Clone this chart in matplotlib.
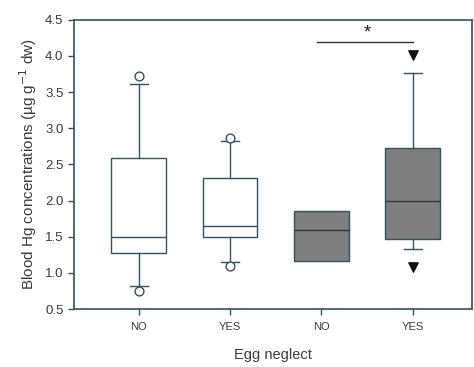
import numpy as np
import matplotlib
matplotlib.use('Agg')
import matplotlib.pyplot as plt

plt.rcParams['font.family'] = ['Liberation Sans', 'DejaVu Sans']

# data
labels = ['NO', 'YES', 'NO', 'YES']
q1 = [1.28, 1.49, 1.17, 1.47]
med = [1.50, 1.65, 1.59, 1.99]
q3 = [2.59, 2.31, 1.85, 2.73]
wlo = [0.82, 1.15, 1.17, 1.33]
whi = [3.61, 2.82, 1.85, 3.77]
fliers = [[0.75, 3.72], [1.10, 2.87], [], [1.08, 4.01]]
filled = [False, False, True, True]

line_c = '#35525c'
fill_c = '#7f7f7f'
text_c = '#3a3a3a'

stats = []
for i in range(4):
    stats.append(dict(med=med[i], q1=q1[i], q3=q3[i], whislo=wlo[i], whishi=whi[i], fliers=[]))

fig = plt.figure(figsize=(4.74, 3.67), dpi=100)
ax = fig.add_axes([0.156, 0.158, 0.84, 0.788])

pos = np.arange(1, 5)
for i in range(4):
    st = stats[i]
    face = fill_c if filled[i] else 'white'
    cw = 0.2 if i != 2 else 0
    ax.bxp([st], positions=[pos[i]], widths=0.6, patch_artist=True, showfliers=False,
           boxprops=dict(facecolor=face, edgecolor=line_c, linewidth=1),
           medianprops=dict(color=line_c if not filled[i] else '#333333', linewidth=1),
           whiskerprops=dict(color=line_c, linewidth=1),
           capprops=dict(color=line_c, linewidth=1), capwidths=cw)
    if filled[i]:
        ax.scatter([pos[i]] * len(fliers[i]), fliers[i], marker='v', s=45, color='#111111', zorder=5)
    else:
        ax.scatter([pos[i]] * len(fliers[i]), fliers[i], marker='o', s=40, facecolor='white',
                   edgecolor=line_c, linewidth=1, zorder=5)

# significance bar
ax.plot([2.95, 4.0], [4.2, 4.2], color='#333333', lw=1)
ax.text(3.5, 4.2, '*', ha='center', va='bottom', fontsize=13, color='#222222')

ax.set_xlim(0.29, 4.65)
ax.set_ylim(0.5, 4.5)
ax.set_xticks(pos)
ax.set_xticklabels(labels, fontsize=8, color=text_c)
ax.set_yticks(np.arange(0.5, 4.51, 0.5))
ax.set_yticklabels(['%.1f' % v for v in np.arange(0.5, 4.51, 0.5)], fontsize=9.5, color=text_c)
ax.tick_params(axis='both', direction='out', length=4, color=line_c, width=1)
ax.tick_params(axis='x', pad=5)
for s in ax.spines.values():
    s.set_color(line_c)
    s.set_linewidth(1.2)

ax.set_xlabel('Egg neglect', fontsize=10.5, color=text_c, labelpad=12)
ax.set_ylabel('Blood Hg concentrations (µg g$^{-1}$ dw)', fontsize=11, color=text_c, labelpad=4)

plt.savefig('out.png', dpi=100)
